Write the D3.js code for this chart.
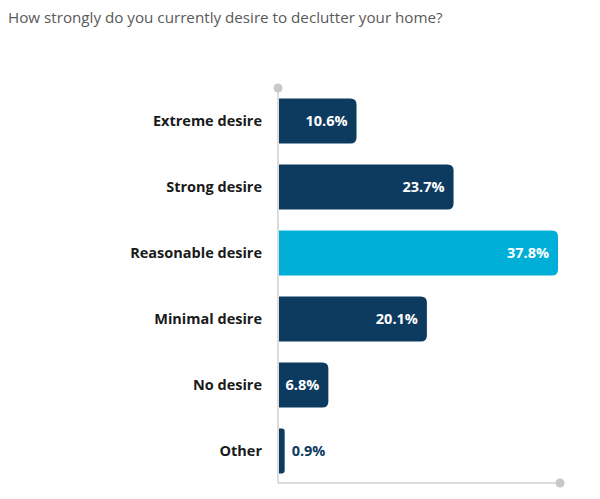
<!DOCTYPE html>
<html>
<head>
<meta charset="utf-8">
<script src="https://cdn.jsdelivr.net/npm/d3@7"></script>
<style>
  body { margin: 0; background: #fff; }
  svg { display: block; }
</style>
</head>
<body>
<div id="chart"></div>
<script>
const categories = ['Extreme desire', 'Strong desire', 'Reasonable desire', 'Minimal desire', 'No desire', 'Other'];
const values = [10.6, 23.7, 37.8, 20.1, 6.8, 0.9];
const highlight = ['Reasonable desire'];
const title = 'How strongly do you currently desire to declutter your home?';

const width = 600, height = 499;
const x0 = 278, xEnd = 560;
const navy = '#0d3b5f', cyan = '#00afd7';

const svg = d3.select('#chart').append('svg')
  .attr('width', width)
  .attr('height', height);

svg.append('text')
  .attr('x', 8)
  .attr('y', 23)
  .attr('font-family', 'Open Sans, Liberation Sans, sans-serif')
  .attr('font-size', 15.2)
  .attr('fill', '#595959')
  .text(title);

const x = d3.scaleLinear().domain([0, 37.8]).range([x0, 558]);
const y = d3.scaleBand().domain(categories).range([88, 484]).paddingInner(0.32).paddingOuter(0.16);

// axes: grey lines with dot ends
svg.append('line')
  .attr('x1', x0).attr('x2', x0).attr('y1', 88).attr('y2', 483)
  .attr('stroke', '#d0d0d0').attr('stroke-width', 1.5);
svg.append('line')
  .attr('x1', x0).attr('x2', xEnd).attr('y1', 483).attr('y2', 483)
  .attr('stroke', '#d0d0d0').attr('stroke-width', 1.5);
svg.append('circle').attr('cx', x0).attr('cy', 88).attr('r', 4.5).attr('fill', '#c8c8c8');
svg.append('circle').attr('cx', xEnd).attr('cy', 483).attr('r', 4.5).attr('fill', '#c8c8c8');

// bars with rounded right corners
function barPath(x1, x2, y1, h) {
  const r = Math.min(6, (x2 - x1) / 2);
  return `M${x1},${y1}H${x2 - r}Q${x2},${y1} ${x2},${y1 + r}V${y1 + h - r}Q${x2},${y1 + h} ${x2 - r},${y1 + h}H${x1}Z`;
}

const data = categories.map((c, i) => ({ cat: c, val: values[i] }));

svg.selectAll('.bar')
  .data(data)
  .enter().append('path')
  .attr('class', 'bar')
  .attr('d', d => barPath(x(0) + 1, x(d.val), y(d.cat), y.bandwidth()))
  .attr('fill', d => highlight.includes(d.cat) ? cyan : navy);

svg.selectAll('.cat')
  .data(data)
  .enter().append('text')
  .attr('class', 'cat')
  .attr('x', 262)
  .attr('y', d => y(d.cat) + y.bandwidth() / 2)
  .attr('dy', '0.35em')
  .attr('text-anchor', 'end')
  .attr('font-family', 'Open Sans, Liberation Sans, sans-serif')
  .attr('font-weight', 'bold')
  .attr('font-size', 14.5)
  .attr('fill', '#1a1a1a')
  .text(d => d.cat);

svg.selectAll('.val')
  .data(data)
  .enter().append('text')
  .attr('class', 'val')
  .attr('x', d => d.val < 3 ? x(d.val) + 7 : x(d.val) - 9)
  .attr('y', d => y(d.cat) + y.bandwidth() / 2)
  .attr('dy', '0.35em')
  .attr('text-anchor', d => d.val < 3 ? 'start' : 'end')
  .attr('font-family', 'Open Sans, Liberation Sans, sans-serif')
  .attr('font-weight', 'bold')
  .attr('font-size', 14.5)
  .attr('fill', d => d.val < 3 ? navy : '#fff')
  .text(d => d.val.toFixed(1) + '%');
</script>
</body>
</html>
